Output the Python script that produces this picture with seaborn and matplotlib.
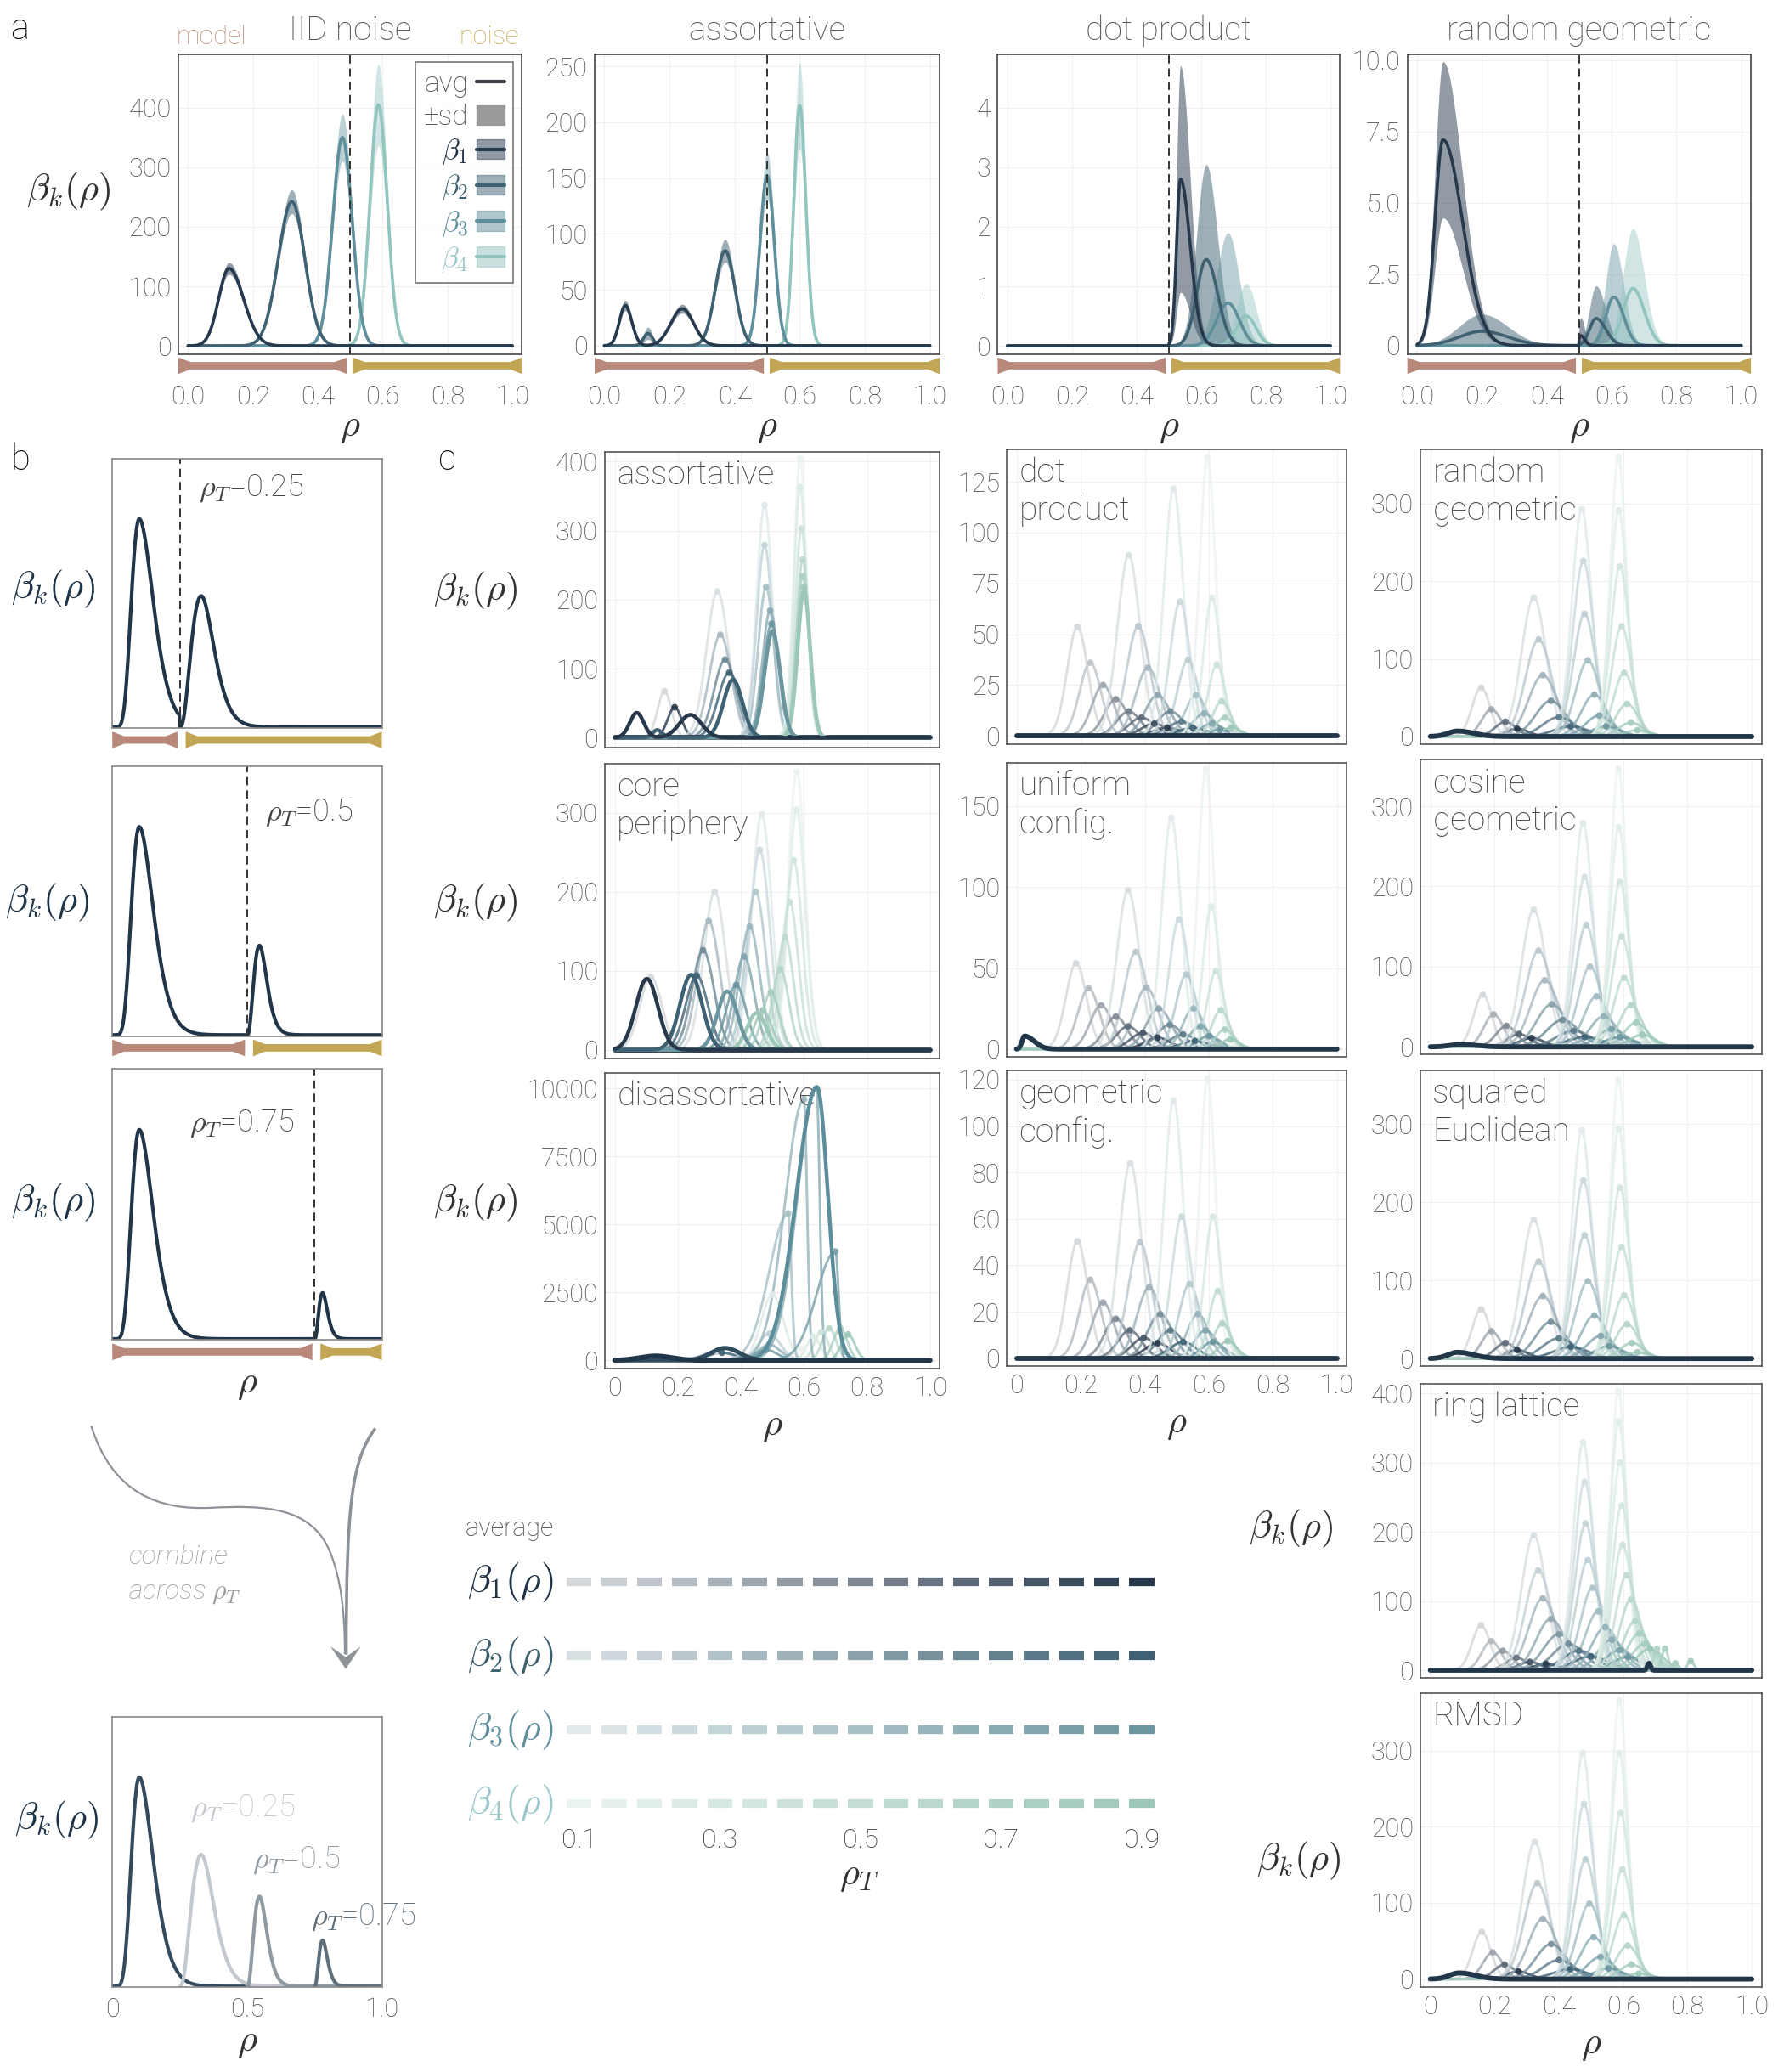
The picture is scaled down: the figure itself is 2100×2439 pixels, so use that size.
import numpy as np
import pandas as pd
import seaborn as sns
import matplotlib.pyplot as plt
from matplotlib.path import Path
from matplotlib.patches import PathPatch, Polygon, Patch
from matplotlib.lines import Line2D
from matplotlib.transforms import blended_transform_factory

sns.set_style('white')
plt.rcParams['font.family'] = ['Roboto', 'DejaVu Sans']
plt.rcParams['font.weight'] = 'light'
plt.rcParams['axes.titleweight'] = 'light'
plt.rcParams['axes.labelweight'] = 'light'
plt.rcParams['mathtext.fontset'] = 'cm'
plt.rcParams['axes.linewidth'] = 1.2

# ---------------- colours ----------------
beta_colors = ['#27394c', '#3f6172', '#5f8f9b', '#93c5bf']
beta_text = ['#223447', '#3d5f6e', '#5f8f9c', '#9cc8cb']
grad_light = ['#d5d9dc', '#d9e0e3', '#e2eaec', '#ebf3f1']
grad_dark = ['#27384b', '#3e6273', '#6b96a0', '#9dc8b8']
navy = '#22364a'
model_col = '#b8897a'
noise_col = '#c3a655'

# ---------------- data ----------------
rho_T = [0.1, 0.15, 0.2, 0.25, 0.3, 0.35, 0.4, 0.45, 0.5, 0.55, 0.6, 0.65, 0.7, 0.75, 0.8, 0.85, 0.9]
rho_T_ticks = [0.1, 0.3, 0.5, 0.7, 0.9]
rho_ticks = [0, 0.2, 0.4, 0.6, 0.8, 1.0]

# panel a: peak centre, height, relative sd, left / right width per beta_k
iid_mu = [[0.126], [0.32], [0.476], [0.587]]
iid_h = [[130], [242], [350], [405]]
iid_r = [[0.077], [0.083], [0.114], [0.17]]
iid_sl = [[0.032], [0.042], [0.03], [0.026]]
iid_sr = [[0.045], [0.04], [0.03], [0.027]]

aso_mu = [[0.064, 0.239], [0.134, 0.371], [0.50], [0.60]]
aso_h = [[36, 33], [11, 85], [152], [215]]
aso_r = [[0.13, 0.12], [0.5, 0.12], [0.14], [0.18]]
aso_sl = [[0.018, 0.035], [0.014, 0.03], [0.022], [0.018]]
aso_sr = [[0.02, 0.035], [0.014, 0.03], [0.022], [0.019]]

dot_mu = [[0.536], [0.616], [0.683], [0.74]]
dot_h = [[2.8], [1.45], [0.72], [0.5]]
dot_r = [[0.68], [1.1], [1.64], [1.1]]
dot_sl = [[0.012], [0.03], [0.035], [0.03]]
dot_sr = [[0.03], [0.035], [0.035], [0.03]]

rgg_mu = [[0.08, 0.505], [0.2, 0.552], [0.607], [0.666]]
rgg_h = [[7.2, 0.35], [0.5, 0.95], [1.7], [2.0]]
rgg_r = [[0.38, 1.8], [1.2, 1.2], [1.1], [1.05]]
rgg_sl = [[0.025, 0.006], [0.07, 0.02], [0.025], [0.03]]
rgg_sr = [[0.06, 0.012], [0.08, 0.03], [0.03], [0.035]]

# panel b: threshold, position of the second peak after it, its height
b_thresholds = [0.25, 0.5, 0.75]
b_mode1 = 0.1
b_mode2 = [0.08, 0.046, 0.03]
b_height2 = [0.63, 0.43, 0.22]
b4_colors = ['#c3c9ce', '#8f99a2', '#5f6e7b']

# panel c: per-threshold peak centres and heights for beta_1..beta_4
c_aso_mu = [[0.158, 0.19], [0.326, 0.335, 0.35, 0.363], [0.475, 0.475, 0.48, 0.493, 0.497],
            [0.588, 0.588, 0.592, 0.596, 0.596, 0.6]]
c_aso_h = [[67, 44], [212, 149, 113, 94], [337, 279, 218, 184, 165], [404, 363, 303, 258, 234, 218]]
c_aso_sig = [0.022, 0.035, 0.025, 0.02]
c_aso_avg_mu = [[0.07, 0.24], [0.135, 0.375], [0.50], [0.60]]
c_aso_avg_h = [[36, 33], [11, 84], [154], [213]]
c_aso_avg_sig = [[0.022, 0.035], [0.015, 0.03], [0.025], [0.02]]

c_core_mu = [[0.115], [0.317, 0.298, 0.28, 0.26], [0.466, 0.46, 0.447, 0.428, 0.41, 0.385],
             [0.577, 0.577, 0.568, 0.555, 0.54, 0.525, 0.495, 0.47]]
c_core_h = [[92], [200, 163, 126, 94], [298, 253, 200, 156, 118, 82], [352, 304, 240, 187, 143, 102, 73, 50]]
c_core_sig = [0.035, 0.035, 0.032, 0.027]
c_core_avg_mu = [[0.102], [0.242], [0.357], [0.45]]
c_core_avg_h = [[90], [95], [74], [46.5]]
c_core_avg_sig = [[0.035], [0.035], [0.032], [0.03]]

c_dis_mu = [[], [0.32, 0.34], [0.50, 0.49, 0.49, 0.48], [0.59, 0.63, 0.655, 0.68, 0.715, 0.74]]
c_dis_h = [[], [330, 280], [2415, 976, 577, 388], [420, 871, 1050, 1176, 1186, 950]]
c_dis_sig = [0.04, 0.045, 0.035, 0.022]
c_dis_cut_mu = [0.55, 0.60, 0.64, 0.70]
c_dis_cut_h = [5400, 9600, 10000, 4000]

c_dot_mu = [[0.19, 0.23, 0.27, 0.31, 0.35, 0.39, 0.43, 0.47], [0.35, 0.38, 0.41, 0.44, 0.48, 0.515, 0.55],
            [0.49, 0.51, 0.535, 0.56, 0.585, 0.61, 0.635], [0.596, 0.61, 0.625, 0.64, 0.65, 0.67]]
c_dot_h = [[53.6, 36, 25, 18, 12, 9, 6, 4], [89, 54, 33.5, 20, 12, 7, 4],
           [121.6, 66, 37.4, 20, 11, 6, 3], [137, 68, 35, 17, 9, 4]]
c_dot_sig = [0.032, 0.035, 0.03, 0.025]

c_unif_mu = [[0.186, 0.225, 0.264, 0.31, 0.348, 0.394, 0.44], [0.348, 0.372, 0.405, 0.444, 0.478, 0.52, 0.557],
             [0.483, 0.507, 0.53, 0.552, 0.574, 0.6], [0.591, 0.608, 0.622, 0.637, 0.65, 0.667]]
c_unif_h = [[53, 37.5, 27, 20, 14, 10, 7], [98, 60, 38, 25, 15, 9, 5], [143, 80, 46, 25, 14, 8], [173, 88, 48, 24, 12, 6]]
c_unif_sig = [0.032, 0.035, 0.03, 0.025]

c_geo_mu = [[0.19, 0.23, 0.27, 0.31, 0.353, 0.397, 0.44], [0.355, 0.385, 0.414, 0.448, 0.48, 0.52],
            [0.49, 0.515, 0.54, 0.566, 0.59, 0.613], [0.596, 0.613, 0.628, 0.642, 0.659]]
c_geo_h = [[50.4, 33.8, 24, 17, 12, 8.8, 6.5], [84, 50, 30.5, 19, 12, 7], [111, 61, 32, 19, 12, 7], [120.5, 61, 29, 15, 7.4]]
c_geo_sig = [0.032, 0.035, 0.03, 0.025]

c_rgg_mu = [[0.158, 0.19, 0.234, 0.27], [0.322, 0.337, 0.35, 0.375, 0.40, 0.437],
            [0.471, 0.476, 0.48, 0.49, 0.51, 0.525, 0.547], [0.585, 0.586, 0.59, 0.595, 0.603, 0.612, 0.624, 0.644]]
c_rgg_h = [[63, 35, 19, 10], [179, 125, 79, 46, 25, 13], [293, 226, 158, 98, 54, 27, 13], [359, 291, 219, 142, 82, 42, 18, 8]]

c_cos_mu = [[0.163, 0.197, 0.237, 0.276, 0.315], [0.322, 0.337, 0.356, 0.378, 0.412, 0.446, 0.48],
            [0.475, 0.48, 0.485, 0.497, 0.517, 0.539, 0.564, 0.59], [0.585, 0.586, 0.59, 0.595, 0.603, 0.624, 0.64, 0.66]]
c_cos_h = [[65, 40.5, 26, 16, 11], [171, 120, 83, 53, 33.5, 20, 12], [279, 212, 152, 100, 63, 38, 22, 12],
           [347, 274, 206, 138, 86, 52, 30, 15]]

c_sq_mu = [[0.158, 0.19, 0.234, 0.27], [0.322, 0.337, 0.35, 0.375, 0.40, 0.437],
           [0.471, 0.476, 0.48, 0.49, 0.51, 0.53, 0.556], [0.585, 0.586, 0.59, 0.595, 0.603, 0.612, 0.627, 0.644]]
c_sq_h = [[63, 35, 20, 11], [178, 124, 80, 47, 26, 15], [292, 228, 158, 99, 55, 29, 16], [357, 294, 219, 143, 81, 44, 20, 8]]

c_ring_mu = [[0.158, 0.19, 0.225, 0.268, 0.31, 0.36], [0.322, 0.336, 0.35, 0.375, 0.40, 0.43, 0.463, 0.5],
             [0.475, 0.48, 0.483, 0.49, 0.505, 0.522, 0.544, 0.564, 0.59, 0.615],
             [0.585, 0.586, 0.59, 0.595, 0.598, 0.61, 0.624, 0.637, 0.65, 0.666, 0.683]]
c_ring_h = [[65, 42, 28, 18, 12, 9], [195, 144, 104, 74, 52, 38, 28, 20],
            [329, 272, 212, 159, 119, 85, 62, 44, 29, 19], [403, 359, 300, 238, 181, 137, 102, 71, 53, 38, 31]]
c_ring_extra_mu = [0.705, 0.73, 0.762, 0.81]
c_ring_extra_h = [31, 31, 10, 13]

c_rmsd_mu = [[0.16, 0.194, 0.231, 0.274], [0.325, 0.333, 0.35, 0.376, 0.40, 0.435],
             [0.474, 0.478, 0.483, 0.495, 0.508, 0.529, 0.554], [0.588, 0.588, 0.592, 0.597, 0.602, 0.614, 0.626, 0.648]]
c_rmsd_h = [[62, 35, 19, 10], [180, 126, 79, 46, 25, 13], [297, 230, 157, 99, 55, 29, 14], [366, 297, 218, 144, 84, 44, 19, 7]]
c_geom_sig = [0.028, 0.038, 0.03, 0.025]

# averaged curve (thick navy) bumps: centre, height, left / right width
avg_unif = [0.025, 8, 0.008, 0.03]
avg_rgg = [0.085, 7, 0.03, 0.05]
avg_cos = [0.09, 3, 0.03, 0.05]
avg_sq = [0.085, 8, 0.03, 0.05]
avg_rmsd = [0.09, 8, 0.03, 0.05]
avg_ring = [0.68, 10, 0.005, 0.005]

# ---------------- helpers ----------------
xs = np.linspace(0, 1, 801)
palettes = [sns.blend_palette([grad_light[k], grad_dark[k]], len(rho_T)) for k in range(4)]
W, H = 1350.0, 1568.0
fig = plt.figure(figsize=(21, 24.39), dpi=100)
over = fig.add_axes([0, 0, 1, 1])
over.set_xlim(0, W)
over.set_ylim(H, 0)
over.axis('off')


def place(x0, y0, x1, y1):
    return fig.add_axes([x0 / W, 1 - y1 / H, (x1 - x0) / W, (y1 - y0) / H])


def bump(m, h, sl, sr):
    s = np.where(xs < m, sl, sr)
    return h * np.exp(-0.5 * ((xs - m) / s) ** 2)


def peak_sum(mus, hs, sls, srs, cut=None):
    y = np.zeros_like(xs)
    for m, h, a, b in zip(mus, hs, sls, srs):
        yy = bump(m, h, a, b)
        if cut is not None and m > cut:
            yy[xs < cut] = 0
        y += yy
    return y


def hump(start, mode, height, a_rise, a_fall):
    u = np.clip((xs - start) / mode, 0, None)
    a = np.where(u < 1, a_rise, a_fall)
    return height * u ** a * np.exp(a * (1 - u))


def end_bar(ax, x0, x1, color, y_top, y_bot, flare):
    tr = blended_transform_factory(ax.transData, ax.transAxes)
    ym = (y_top + y_bot) / 2
    hh = (y_top - y_bot) / 2 * 0.45
    pts = [(x0, y_top), (x0 + flare, ym + hh), (x1 - flare, ym + hh), (x1, y_top),
           (x1, y_bot), (x1 - flare, ym - hh), (x0 + flare, ym - hh), (x0, y_bot)]
    ax.add_patch(Polygon(pts, closed=True, transform=tr, facecolor=color, edgecolor='none', clip_on=False))


def style(ax, spine='#555555'):
    for s in ax.spines.values():
        s.set_color(spine)
        s.set_linewidth(1.2)
    ax.grid(True, color='#f1f1f1', lw=0.9)
    ax.set_axisbelow(True)
    ax.tick_params(axis='both', labelsize=22, labelcolor='#4d4d4d', color='#666666', width=1)
    ax.tick_params(axis='x', direction='in', length=5)
    ax.tick_params(axis='y', direction='out', length=4, pad=2)
    ax.set_xlabel('')
    ax.set_ylabel('')


# ---------------- panel a ----------------
def draw_a(ax, mus, hs, rs, sls, srs, cut, ylim, yticks, ylabels, title):
    curves = []
    for k in range(4):
        y = peak_sum(mus[k], hs[k], sls[k], srs[k], cut)
        sd = peak_sum(mus[k], [h * r for h, r in zip(hs[k], rs[k])], sls[k], srs[k], cut)
        curves.append(y)
        ax.fill_between(xs, np.clip(y - sd, 0, None), y + sd, color=beta_colors[k],
                        alpha=0.5 if k < 2 else 0.42, lw=0)
    for k in [3, 2, 1, 0]:
        sns.lineplot(x=xs, y=curves[k], color=beta_colors[k], lw=2.6, ax=ax)
    ax.axvline(0.5, color='#333333', ls=(0, (5, 3)), lw=1.4)
    ax.set_xlim(-0.03, 1.03)
    ax.set_ylim(*ylim)
    style(ax, '#444444')
    ax.set_xticks(rho_ticks)
    ax.set_xticklabels(['0.0', '0.2', '0.4', '0.6', '0.8', '1.0'])
    ax.set_yticks(yticks)
    ax.set_yticklabels(ylabels)
    ax.tick_params(axis='x', pad=26)
    ax.set_xlabel(r'$\rho$', fontsize=32, color='#333333', labelpad=0)
    ax.set_title(title, fontsize=28, color='#555555', pad=12, fontweight='light')
    end_bar(ax, -0.03, 0.49, model_col, -0.011, -0.066, 0.037)
    end_bar(ax, 0.508, 1.03, noise_col, -0.011, -0.066, 0.037)


ax_a1 = place(135, 41, 395, 268)
draw_a(ax_a1, iid_mu, iid_h, iid_r, iid_sl, iid_sr, None, (-14, 490),
       [0, 100, 200, 300, 400], ['0', '100', '200', '300', '400'], 'IID noise')
ax_a2 = place(450, 41, 711, 268)
draw_a(ax_a2, aso_mu, aso_h, aso_r, aso_sl, aso_sr, None, (-7.6, 261),
       [0, 50, 100, 150, 200, 250], ['0', '50', '100', '150', '200', '250'], 'assortative')
ax_a3 = place(755, 41, 1014, 268)
draw_a(ax_a3, dot_mu, dot_h, dot_r, dot_sl, dot_sr, 0.5, (-0.14, 4.9),
       [0, 1, 2, 3, 4], ['0', '1', '2', '3', '4'], 'dot product')
ax_a4 = place(1065, 41, 1325, 268)
draw_a(ax_a4, rgg_mu, rgg_h, rgg_r, rgg_sl, rgg_sr, 0.5, (-0.3, 10.2),
       [0, 2.5, 5, 7.5, 10], ['0', '2.5', '5.0', '7.5', '10.0'], 'random geometric')

# legend of panel a
handles = [Line2D([], [], color='#3a3f45', lw=3), Patch(color='#9a9a9a')]
for k in range(4):
    handles.append((Patch(color=beta_colors[k], alpha=0.5), Line2D([], [], color=beta_colors[k], lw=3)))
labels = ['avg', '±sd'] + [rf'$\beta_{k + 1}$' for k in range(4)]
leg = ax_a1.legend(handles, labels, loc='upper right', bbox_to_anchor=(0.975, 0.975), fontsize=24,
                   markerfirst=False, frameon=True, fancybox=False, edgecolor='#555555',
                   handlelength=1.0, handletextpad=0.3, labelspacing=0.22, borderpad=0.3, borderaxespad=0)
leg.get_frame().set_linewidth(1.2)
for t, c in zip(leg.get_texts(), ['#444444', '#444444'] + beta_text):
    t.set_color(c)

over.text(160, 28, 'model', color='#c0907f', fontsize=22, ha='center', va='center')
over.text(370, 28, 'noise', color='#c9ad5a', fontsize=22, ha='center', va='center')
over.text(52, 145, r'$\beta_k(\rho)$', fontsize=32, color='#333333', ha='center', va='center')

# ---------------- panel b ----------------
b_boxes = [(85, 347, 289, 551), (85, 580, 289, 784), (85, 809, 289, 1014)]
b_label_pos = [(0.32, 0.89), (0.567, 0.83), (0.285, 0.80)]
b_ylabel_pos = [(40, 446), (36, 683), (40, 910)]
first = hump(0, b_mode1, 1.0, 9, 5)
for i, T in enumerate(b_thresholds):
    ax = place(*b_boxes[i])
    second = hump(T, b_mode2[i], b_height2[i], 3, 4)
    y = np.where(xs < T, first, second)
    sns.lineplot(x=xs, y=y, color='#223447', lw=3, ax=ax)
    ax.axvline(T, color='#333333', ls=(0, (5, 3)), lw=1.4)
    ax.set_xlim(0, 1)
    ax.set_ylim(-0.005, 1.29)
    style(ax, '#888888')
    ax.grid(False)
    ax.set_xticks([])
    ax.set_yticks([])
    ax.text(*b_label_pos[i], rf'$\rho_T$=' + f'{T:g}', transform=ax.transAxes, fontsize=26,
            color='#444444', ha='left', va='center')
    end_bar(ax, 0, T + 0.002 - 0.01, model_col, -0.013, -0.075, 0.044)
    end_bar(ax, T + 0.012 + 0.01, 1, noise_col, -0.013, -0.075, 0.044)
    over.text(*b_ylabel_pos[i], r'$\beta_k(\rho)$', fontsize=32, color='#1f3447', ha='center', va='center')
    if i == 2:
        ax.set_xlabel(r'$\rho$', fontsize=32, color='#333333', labelpad=22)

ax_b4 = place(85, 1299, 289, 1504)
sns.lineplot(x=xs, y=first, color='#34495b', lw=3, ax=ax_b4)
b4_label_pos = [(0.29, 0.66), (0.52, 0.47), (0.737, 0.26)]
for i, T in enumerate(b_thresholds):
    second = hump(T, b_mode2[i], b_height2[i], 3, 4)
    sns.lineplot(x=xs[xs >= T], y=second[xs >= T], color=b4_colors[i], lw=3, ax=ax_b4)
    ax_b4.text(*b4_label_pos[i], rf'$\rho_T$=' + f'{T:g}', transform=ax_b4.transAxes, fontsize=26,
               color=b4_colors[i], ha='left', va='center')
ax_b4.set_xlim(0, 1)
ax_b4.set_ylim(-0.005, 1.29)
style(ax_b4, '#888888')
ax_b4.grid(False)
ax_b4.set_yticks([])
ax_b4.set_xticks([0, 0.5, 1.0])
ax_b4.set_xticklabels(['0', '0.5', '1.0'])
ax_b4.tick_params(axis='x', length=0, pad=8)
ax_b4.set_xlabel(r'$\rho$', fontsize=32, color='#333333', labelpad=2)
over.text(43, 1377, r'$\beta_k(\rho)$', fontsize=32, color='#1f3447', ha='center', va='center')

# arrows "combine across rho_T"
left_curve = [(69, 1079), (85, 1130), (120, 1143), (160, 1141), (200, 1139), (236, 1140),
              (250, 1175), (258, 1195), (261, 1220), (261, 1252)]
right_curve = [(284, 1081), (266, 1105), (262, 1140), (262, 1252)]
over.add_patch(PathPatch(Path(left_curve, [Path.MOVETO] + [Path.CURVE4] * 9), fc='none', ec='#8d9298', lw=1.6))
over.add_patch(PathPatch(Path(right_curve, [Path.MOVETO] + [Path.CURVE4] * 3), fc='none', ec='#8d9298', lw=2.6))
over.add_patch(Polygon([(261.6, 1263), (250, 1246), (261.6, 1254), (273, 1246)], closed=True,
                       fc='#8d9298', ec='none'))
over.text(97, 1178, 'combine', fontsize=23, style='italic', color='#9c9c9c', ha='left', va='center')
over.text(97, 1206, r'across $\rho_T$', fontsize=23, style='italic', color='#9c9c9c', ha='left', va='center')

# ---------------- panel c ----------------
def families(ax, fam_mu, fam_h, fam_sig, extra=None, spread=0.0):
    frames, pal, pk = [], {}, []
    for k in range(4):
        n = len(fam_mu[k])
        for j, (m, h) in enumerate(zip(fam_mu[k], fam_h[k])):
            cid = f'{k}-{j}'
            idx = int(round(j * 16 / (n - 1))) if n > 1 else 0
            pal[cid] = palettes[k][idx]
            s = fam_sig[k] * (1 + spread * j)
            frames.append(pd.DataFrame({'rho': xs, 'beta': bump(m, h, s, s), 'curve': cid}))
            pk.append((m, h, cid))
    if extra is not None:
        for j, (m, h, sl, sr, k, idx) in enumerate(extra):
            cid = f'x-{j}'
            pal[cid] = palettes[k][idx]
            frames.append(pd.DataFrame({'rho': xs, 'beta': bump(m, h, sl, sr), 'curve': cid}))
            pk.append((m, h, cid))
    df = pd.concat(frames, ignore_index=True)
    sns.lineplot(data=df, x='rho', y='beta', hue='curve', palette=pal, estimator=None, sort=False,
                 lw=2.1, alpha=0.8, legend=False, ax=ax)
    pdf = pd.DataFrame(pk, columns=['rho', 'beta', 'curve'])
    sns.scatterplot(data=pdf, x='rho', y='beta', hue='curve', palette=pal, s=32, linewidth=0,
                    alpha=0.9, legend=False, ax=ax, zorder=3)


def finish_c(ax, ylim, yticks, label, xlabels=False):
    ax.set_xlim(-0.03, 1.03)
    ax.set_ylim(*ylim)
    style(ax)
    ax.set_xticks(rho_ticks)
    ax.set_yticks(yticks)
    ax.set_yticklabels([f'{t:g}' for t in yticks])
    if xlabels:
        ax.set_xticklabels(['0', '0.2', '0.4', '0.6', '0.8', '1.0'])
        ax.tick_params(axis='x', pad=6)
        ax.set_xlabel(r'$\rho$', fontsize=32, color='#333333', labelpad=6)
    else:
        ax.set_xticklabels([])
    ax.text(0.035, 0.975, label, transform=ax.transAxes, fontsize=28, color='#444444',
            ha='left', va='top', linespacing=1.25)


def thick(ax, y, color=navy, lw=4.2):
    sns.lineplot(x=xs, y=y, color=color, lw=lw, ax=ax, zorder=4)


# column 1
ax = place(458, 342, 711, 566)
families(ax, c_aso_mu, c_aso_h, c_aso_sig)
thick(ax, np.zeros_like(xs))
for k in [3, 2, 1, 0]:
    thick(ax, peak_sum(c_aso_avg_mu[k], c_aso_avg_h[k], c_aso_avg_sig[k], c_aso_avg_sig[k]), grad_dark[k], 3.2)
finish_c(ax, (-15, 414), [0, 100, 200, 300, 400], 'assortative')

ax = place(458, 578, 711, 801)
families(ax, c_core_mu, c_core_h, c_core_sig)
thick(ax, np.zeros_like(xs))
for k in [3, 2, 1, 0]:
    thick(ax, peak_sum(c_core_avg_mu[k], c_core_avg_h[k], c_core_avg_sig[k], c_core_avg_sig[k]), grad_dark[k], 3.2)
finish_c(ax, (-11, 362), [0, 100, 200, 300], 'core\nperiphery')

ax = place(458, 812, 711, 1036)
cut_curves = [(m, h, 0.06, 0.01, 2, 8 + 2 * j) for j, (m, h) in enumerate(zip(c_dis_cut_mu, c_dis_cut_h))]
families(ax, c_dis_mu, c_dis_h, c_dis_sig, extra=cut_curves)
thick(ax, bump(0.641, 10050, 0.065, 0.035), '#5b8e9a', 3.2)
thick(ax, bump(0.35, 452, 0.045, 0.045), '#2f4c5e', 3.6)
thick(ax, bump(0.13, 157, 0.05, 0.05))
finish_c(ax, (-320, 10566), [0, 2500, 5000, 7500, 10000], 'disassortative', xlabels=True)

# column 2
ax = place(762, 340, 1019, 563)
families(ax, c_dot_mu, c_dot_h, c_dot_sig, spread=0.04)
thick(ax, np.zeros_like(xs))
finish_c(ax, (-4, 141), [0, 25, 50, 75, 100, 125], 'dot\nproduct')

ax = place(762, 577, 1019, 800)
families(ax, c_unif_mu, c_unif_h, c_unif_sig, spread=0.04)
thick(ax, bump(*avg_unif))
finish_c(ax, (-5, 177), [0, 50, 100, 150], 'uniform\nconfig.')

ax = place(762, 810, 1019, 1034)
families(ax, c_geo_mu, c_geo_h, c_geo_sig, spread=0.04)
thick(ax, np.zeros_like(xs))
finish_c(ax, (-3.5, 124), [0, 20, 40, 60, 80, 100, 120], 'geometric\nconfig.', xlabels=True)

# column 3
ax = place(1075, 340, 1333, 563)
families(ax, c_rgg_mu, c_rgg_h, c_geom_sig, spread=0.08)
thick(ax, bump(*avg_rgg))
finish_c(ax, (-9.6, 370), [0, 100, 200, 300], 'random\ngeometric')

ax = place(1075, 575, 1333, 798)
families(ax, c_cos_mu, c_cos_h, c_geom_sig, spread=0.08)
thick(ax, bump(*avg_cos))
finish_c(ax, (-9.6, 358), [0, 100, 200, 300], 'cosine\ngeometric')

ax = place(1075, 810, 1333, 1034)
families(ax, c_sq_mu, c_sq_h, c_geom_sig, spread=0.08)
thick(ax, bump(*avg_sq))
finish_c(ax, (-10, 369), [0, 100, 200, 300], 'squared\nEuclidean')

ax = place(1075, 1047, 1333, 1270)
ring_extra = [(m, h, 0.01, 0.01, 3, 12 + j) for j, (m, h) in enumerate(zip(c_ring_extra_mu, c_ring_extra_h))]
families(ax, c_ring_mu, c_ring_h, c_geom_sig, extra=ring_extra, spread=0.06)
thick(ax, bump(*avg_ring))
finish_c(ax, (-11.6, 414), [0, 100, 200, 300, 400], 'ring lattice')

ax = place(1075, 1281, 1333, 1504)
families(ax, c_rmsd_mu, c_rmsd_h, c_geom_sig, spread=0.08)
thick(ax, bump(*avg_rmsd))
finish_c(ax, (-11, 376), [0, 100, 200, 300], 'RMSD', xlabels=True)

for y in [447, 683, 910]:
    over.text(360, y, r'$\beta_k(\rho)$', fontsize=32, color='#333333', ha='center', va='center')
over.text(977, 1157, r'$\beta_k(\rho)$', fontsize=32, color='#333333', ha='center', va='center')
over.text(983, 1408, r'$\beta_k(\rho)$', fontsize=32, color='#333333', ha='center', va='center')

# ---------------- average legend (threshold colour scale) ----------------
ax_l = place(420, 1169, 880, 1380)
for k in range(4):
    ax_l.hlines([k + 1] * len(rho_T), [r - 0.0178 for r in rho_T], [r + 0.0178 for r in rho_T],
                colors=palettes[k], lw=7.4, capstyle='butt')
    over.text(419, 1197.4 + 56 * k, rf'$\beta_{k + 1}(\rho)$', fontsize=33, color=beta_text[k],
              ha='right', va='center')
ax_l.set_xlim(0.0658, 0.930)
ax_l.set_ylim(4.268, 0.5)
sns.despine(ax=ax_l, left=True, bottom=True)
ax_l.set_yticks([])
ax_l.set_xticks(rho_T_ticks)
ax_l.set_xticklabels([f'{t:g}' for t in rho_T_ticks])
ax_l.tick_params(axis='x', length=0, labelsize=23, labelcolor='#333333', pad=4)
ax_l.set_xlabel(r'$\rho_T$', fontsize=32, color='#333333', labelpad=4)
over.text(352, 1157, 'average', fontsize=22, color='#444444', ha='left', va='center')

# panel letters
over.text(8, 22, 'a', fontsize=30, color='black', ha='left', va='center')
over.text(8, 348, 'b', fontsize=30, color='black', ha='left', va='center')
over.text(332, 348, 'c', fontsize=30, color='black', ha='left', va='center')

fig.savefig('out.png', dpi=100)
